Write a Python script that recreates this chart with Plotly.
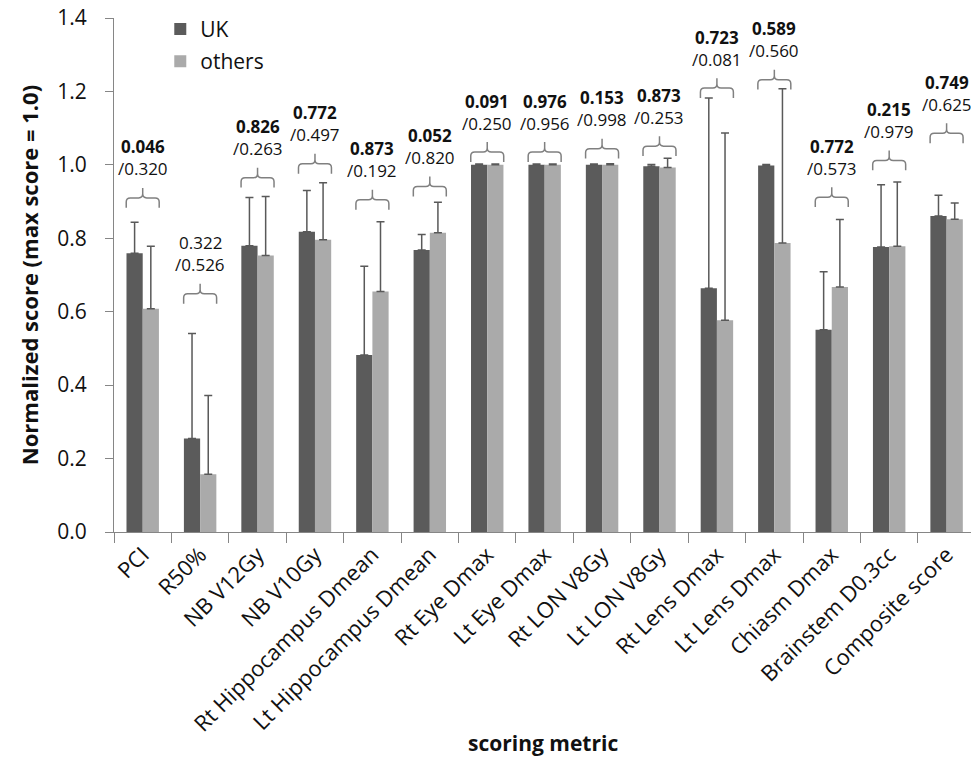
import plotly.graph_objects as go

categories = ["PCI", "R50%", "NB V12Gy", "NB V10Gy", "Rt Hippocampus Dmean",
              "Lt Hippocampus Dmean", "Rt Eye Dmax", "Lt Eye Dmax", "Rt LON V8Gy",
              "Lt LON V8Gy", "Rt Lens Dmax", "Lt Lens Dmax", "Chiasm Dmax",
              "Brainstem D0.3cc", "Composite score"]
uk = [0.759, 0.255, 0.780, 0.818, 0.482, 0.768, 1.0, 1.0, 1.0, 0.996, 0.664, 0.998, 0.551, 0.776, 0.861]
uk_err = [0.085, 0.286, 0.131, 0.112, 0.242, 0.042, 0.002, 0.002, 0.002, 0.005, 0.518, 0.003, 0.158, 0.170, 0.056]
others = [0.608, 0.157, 0.753, 0.796, 0.655, 0.815, 1.0, 1.0, 1.0, 0.993, 0.577, 0.787, 0.667, 0.778, 0.852]
others_err = [0.170, 0.215, 0.161, 0.155, 0.190, 0.083, 0.002, 0.002, 0.003, 0.025, 0.510, 0.420, 0.184, 0.175, 0.044]
p_first = ["0.046", "0.322", "0.826", "0.772", "0.873", "0.052", "0.091", "0.976", "0.153",
           "0.873", "0.723", "0.589", "0.772", "0.215", "0.749"]
p_second = ["0.320", "0.526", "0.263", "0.497", "0.192", "0.820", "0.250", "0.956", "0.998",
            "0.253", "0.081", "0.560", "0.573", "0.979", "0.625"]
first_bold = [True, False, True, True, True, True, True, True, True, True, True, True, True, True, True]
bracket_y = [0.883, 0.622, 0.938, 0.976, 0.878, 0.914, 1.008, 1.008, 1.017, 1.024, 1.182, 1.205, 0.885, 0.985, 1.059]

FONT = "Open Sans"
TXT = "#111111"
DARK = "#5b5b5b"
LIGHT = "#aaaaaa"
AXIS = "#868686"
ERR = "#595959"

W, H = 971, 757
ML, MR, MT, MB = 114, 0, 18, 225

xs = list(range(len(categories)))

fig = go.Figure()
fig.add_trace(go.Bar(
    x=xs, y=uk, name="UK", marker=dict(color=DARK, line=dict(width=0)),
    error_y=dict(type="data", array=uk_err, arrayminus=[0] * len(uk), symmetric=False,
                 color=ERR, thickness=1.5, width=4),
    legendgroup="a"))
fig.add_trace(go.Bar(
    x=xs, y=others, name="others", marker=dict(color=LIGHT, line=dict(width=0)),
    error_y=dict(type="data", array=others_err, arrayminus=[0] * len(others), symmetric=False,
                 color=ERR, thickness=1.5, width=4),
    legendgroup="b"))

# brackets and p-value labels
hw, h, rx, ry = 0.287, 0.027, 0.07, 0.011
shapes = []
annotations = []
for i, b in enumerate(bracket_y):
    x = xs[i]
    path = (f"M {x-hw},{b} L {x-hw},{b+h-ry} Q {x-hw},{b+h} {x-hw+rx},{b+h} "
            f"L {x-rx},{b+h} Q {x},{b+h} {x},{b+h+ry} L {x},{b+2*h} "
            f"M {x},{b+h+ry} Q {x},{b+h} {x+rx},{b+h} "
            f"L {x+hw-rx},{b+h} Q {x+hw},{b+h} {x+hw},{b+h-ry} L {x+hw},{b}")
    shapes.append(dict(type="path", xref="x", yref="y", path=path,
                       line=dict(color="#808080", width=1.5)))
    t1 = f"<b>{p_first[i]}</b>" if first_bold[i] else p_first[i]
    annotations.append(dict(x=x, y=b + 2 * h, xref="x", yref="y", text=t1, showarrow=False,
                            yanchor="middle", yshift=41, font=dict(family=FONT, size=17, color=TXT)))
    annotations.append(dict(x=x, y=b + 2 * h, xref="x", yref="y", text="/" + p_second[i], showarrow=False,
                            yanchor="middle", yshift=19, font=dict(family=FONT, size=17, color=TXT)))

plot_h = H - MT - MB
annotations.append(dict(x=0.5, y=-(743 - (H - MB)) / plot_h, xref="paper", yref="paper", yanchor="middle",
                        text="<b>scoring metric</b>", showarrow=False,
                        font=dict(family=FONT, size=21, color=TXT)))

fig.update_layout(
    width=W, height=H,
    margin=dict(l=ML, r=MR, t=MT, b=MB, pad=0),
    paper_bgcolor="white", plot_bgcolor="white",
    barmode="group", bargap=0.435, bargroupgap=0,
    font=dict(family=FONT, color=TXT),
    shapes=shapes, annotations=annotations,
    legend=dict(x=0.054, y=1.018, xanchor="left", yanchor="top", bgcolor="rgba(0,0,0,0)",
                font=dict(family=FONT, size=21, color=TXT), tracegroupgap=2),
    xaxis=dict(range=[-0.5, 14.425], tickmode="array", tickvals=xs, ticktext=categories,
               tickangle=-45, ticks="", showline=True, linecolor=AXIS, linewidth=1.2,
               showgrid=False, zeroline=False,
               tickfont=dict(family=FONT, size=22, color=TXT),
               minor=dict(tick0=0.5, dtick=1, ticks="outside", ticklen=10, tickcolor=AXIS,
                          tickwidth=1.2, showgrid=False)),
    yaxis=dict(range=[0, 1.4], dtick=0.2, tickformat=".1f", ticks="outside", ticklen=8,
               tickcolor=AXIS, tickwidth=1.2, showline=True, linecolor=AXIS, linewidth=1.2,
               showgrid=False, zeroline=False, ticklabelstandoff=14,
               tickfont=dict(family=FONT, size=21, color=TXT),
               title=dict(text="<b>Normalized score (max score = 1.0)</b>", standoff=12,
                          font=dict(family=FONT, size=22, color=TXT))),
)

fig.write_html("out.html",
               config={"displayModeBar": False},
               post_script="document.body.style.margin='0';"
                           "document.documentElement.style.overflow='hidden';"
                           "document.body.style.overflow='hidden';")
